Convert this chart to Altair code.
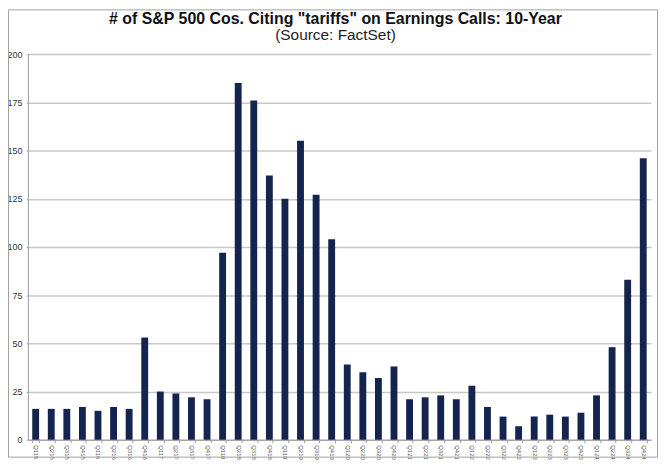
import altair as alt
import pandas as pd

quarters = ["Q115","Q215","Q315","Q415","Q116","Q216","Q316","Q416",
            "Q117","Q217","Q317","Q417","Q118","Q218","Q318","Q418",
            "Q119","Q219","Q319","Q419","Q120","Q220","Q320","Q420",
            "Q121","Q221","Q321","Q421","Q122","Q222","Q322","Q422",
            "Q123","Q223","Q323","Q423","Q124","Q224","Q324","Q424"]
counts = [16,16,16,17,15,17,16,53,
          25,24,22,21,97,185,176,137,
          125,155,127,104,39,35,32,38,
          21,22,23,21,28,17,12,7,
          12,13,12,14,23,48,83,146]
y_ticks = [0,25,50,75,100,125,150,175,200]

df = pd.DataFrame({"quarter": quarters, "count": counts})

W, H = 627, 388

bars = alt.Chart(df).mark_bar(color="#15244f").encode(
    x=alt.X("quarter:N", sort=quarters, title=None,
            scale=alt.Scale(paddingInner=0.56, paddingOuter=0.28),
            axis=alt.Axis(labelAngle=90, labelFontSize=6, labelColor="#555",
                          labelFont="Liberation Sans", tickBand="extent",
                          tickSize=3, tickColor="#999", domainColor="#999",
                          labelPadding=2, grid=False)),
    y=alt.Y("count:Q", title=None,
            scale=alt.Scale(domain=[0,200], nice=False),
            axis=alt.Axis(values=y_ticks, labelFontSize=9, labelColor="#333",
                          labelFont="Liberation Sans", tickSize=2, tickColor="#bbb",
                          domainColor="#999", gridColor="#c8c8c8", gridWidth=1.5,
                          labelPadding=4)),
)

border = alt.Chart(pd.DataFrame({"a": [0]})).mark_rect(
    fill=None, stroke="#a0a0a0", strokeWidth=1
).encode(
    x=alt.value(-19.5), x2=alt.value(W + 6.5),
    y=alt.value(-44.5), y2=alt.value(H + 17.5),
)

chart = alt.layer(bars, border).properties(
    width=W, height=H,
    autosize=alt.AutoSizeParams(type="none"),
    padding={"left": 20, "top": 45, "right": 7, "bottom": 19},
    title=alt.TitleParams(
        text='# of S&P 500 Cos. Citing "tariffs" on Earnings Calls: 10-Year',
        subtitle="(Source: FactSet)",
        font="Liberation Sans", fontSize=16, fontWeight="bold", color="#111",
        subtitleFont="Liberation Sans", subtitleFontSize=15.5, subtitleColor="#222",
        anchor="middle", frame="group", offset=-34, subtitlePadding=1,
        dx=-4,
    ),
).configure_view(stroke=None)

chart.save("out.html", embed_options={"renderer": "svg", "actions": False})
